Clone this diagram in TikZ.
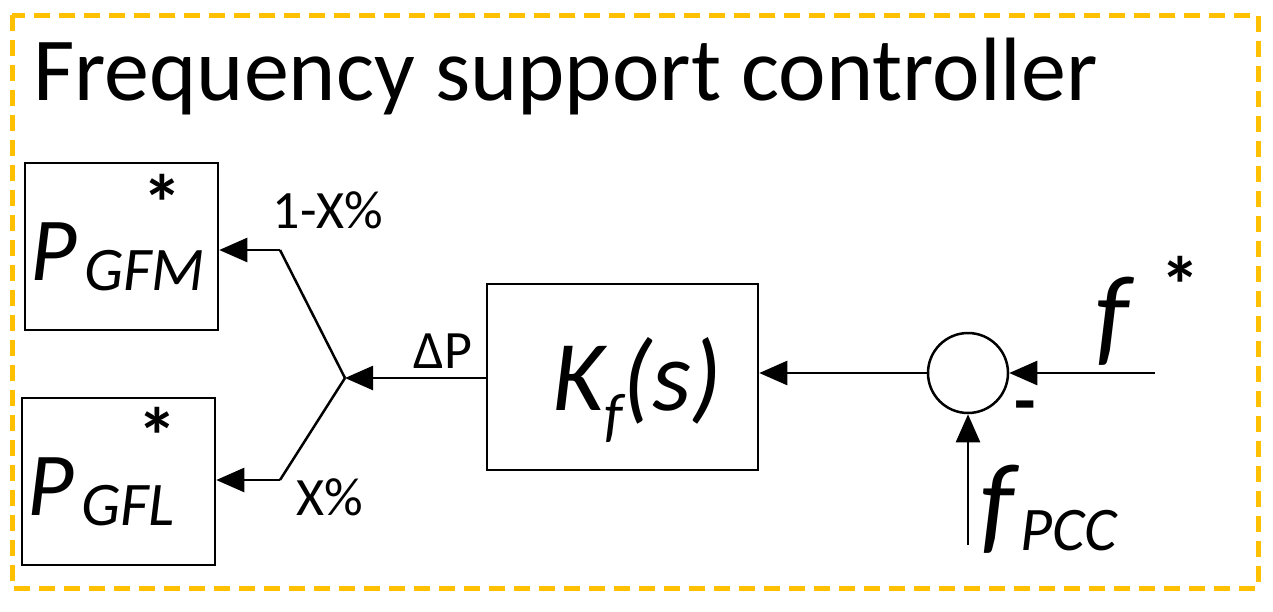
\documentclass[tikz,border=0pt]{standalone}
\usepackage{fontspec}
\setmainfont{Carlito}
\usetikzlibrary{arrows.meta}
\definecolor{gold}{RGB}{255,192,0}
\begin{document}
\begin{tikzpicture}[x=1pt,y=-1pt,
  blk/.style={draw,line width=2.5pt},
  sig/.style={line width=2.5pt,-{Triangle[length=28pt,width=24pt]}},
  ln/.style={line width=2.5pt},
  lbl/.style={anchor=base,inner sep=0,font=\fontsize{54}{54}\selectfont}]
\useasboundingbox (0,0) rectangle (1273,611);
\draw[gold,line width=5pt,dash pattern=on 16pt off 9pt] (12,15) rectangle (1258,588);
\node[anchor=base west,font=\fontsize{90}{90}\selectfont,inner sep=0] (title) at (33,100) {Frequency support controller};
\node[blk,minimum width=193pt,minimum height=167pt] (gfm) at (121.5,246.5) {};
\node[blk,minimum width=193pt,minimum height=167pt] (gfl) at (118.5,481.5) {};
\node[blk,minimum width=271pt,minimum height=186pt] (kf) at (622.5,377) {};
\node[draw,line width=2.5pt,circle,minimum size=80pt,inner sep=0] (sum) at (968,373) {};
\node[anchor=base west,inner sep=0,font=\fontsize{90}{90}\selectfont] (pgfm) at (30,280) {\itshape P};
\node[anchor=base west,inner sep=0,font=\fontsize{62}{62}\selectfont] (pgfmsub) at (84,290) {\itshape GFM};
\node[inner sep=0,font=\fontsize{80}{80}\selectfont\bfseries] (pgfmst) at (162,203) {*};
\node[anchor=base west,inner sep=0,font=\fontsize{90}{90}\selectfont] (pgfl) at (27,515) {\itshape P};
\node[anchor=base west,inner sep=0,font=\fontsize{62}{62}\selectfont] (pgflsub) at (81,525) {\itshape GFL};
\node[inner sep=0,font=\fontsize{80}{80}\selectfont\bfseries] (pgflst) at (157,436) {*};
\node[anchor=base,inner sep=0,font=\fontsize{100}{100}\selectfont] (kft) at (637,410) {\itshape K\raisebox{-0.25em}{\fontsize{60}{60}\selectfont f}(s)};
\node[anchor=base west,inner sep=0,font=\fontsize{110}{110}\selectfont] (fs) at (1095,352) {\itshape f};
\node[inner sep=0,font=\fontsize{80}{80}\selectfont\bfseries] (fst) at (1180,285) {*};
\node[anchor=base west,inner sep=0,font=\fontsize{110}{110}\selectfont] (fpcc) at (980,540) {\itshape f};
\node[anchor=base west,inner sep=0,font=\fontsize{62}{62}\selectfont] (fpccsub) at (1020,550) {\itshape PCC};
\node[inner sep=0,font=\fontsize{70}{70}\selectfont\bfseries] (minus) at (1025,413) {-};
\node[lbl] (dp) at (443,368) {ΔP};
\node[lbl] (l1) at (328,228) {1-X\%};
\node[lbl] (l2) at (330,515) {X\%};
\coordinate (fin) at (1155,373);
\coordinate (pin) at (968,545);
\coordinate (j) at (345,378);
\coordinate (a1) at (280,250);
\coordinate (a2) at (280,480);
\draw[sig] (fin) -- (sum.east);
\draw[sig] (pin) -- (sum.south);
\draw[sig] (sum.west) -- (kf.east |- sum);
\draw[sig] (kf.west |- j) -- (j);
\draw[ln] (j) -- (a1);
\draw[sig] (a1) -- (gfm.east |- a1);
\draw[ln] (j) -- (a2);
\draw[sig] (a2) -- (gfl.east |- a2);
\end{tikzpicture}
\end{document}
